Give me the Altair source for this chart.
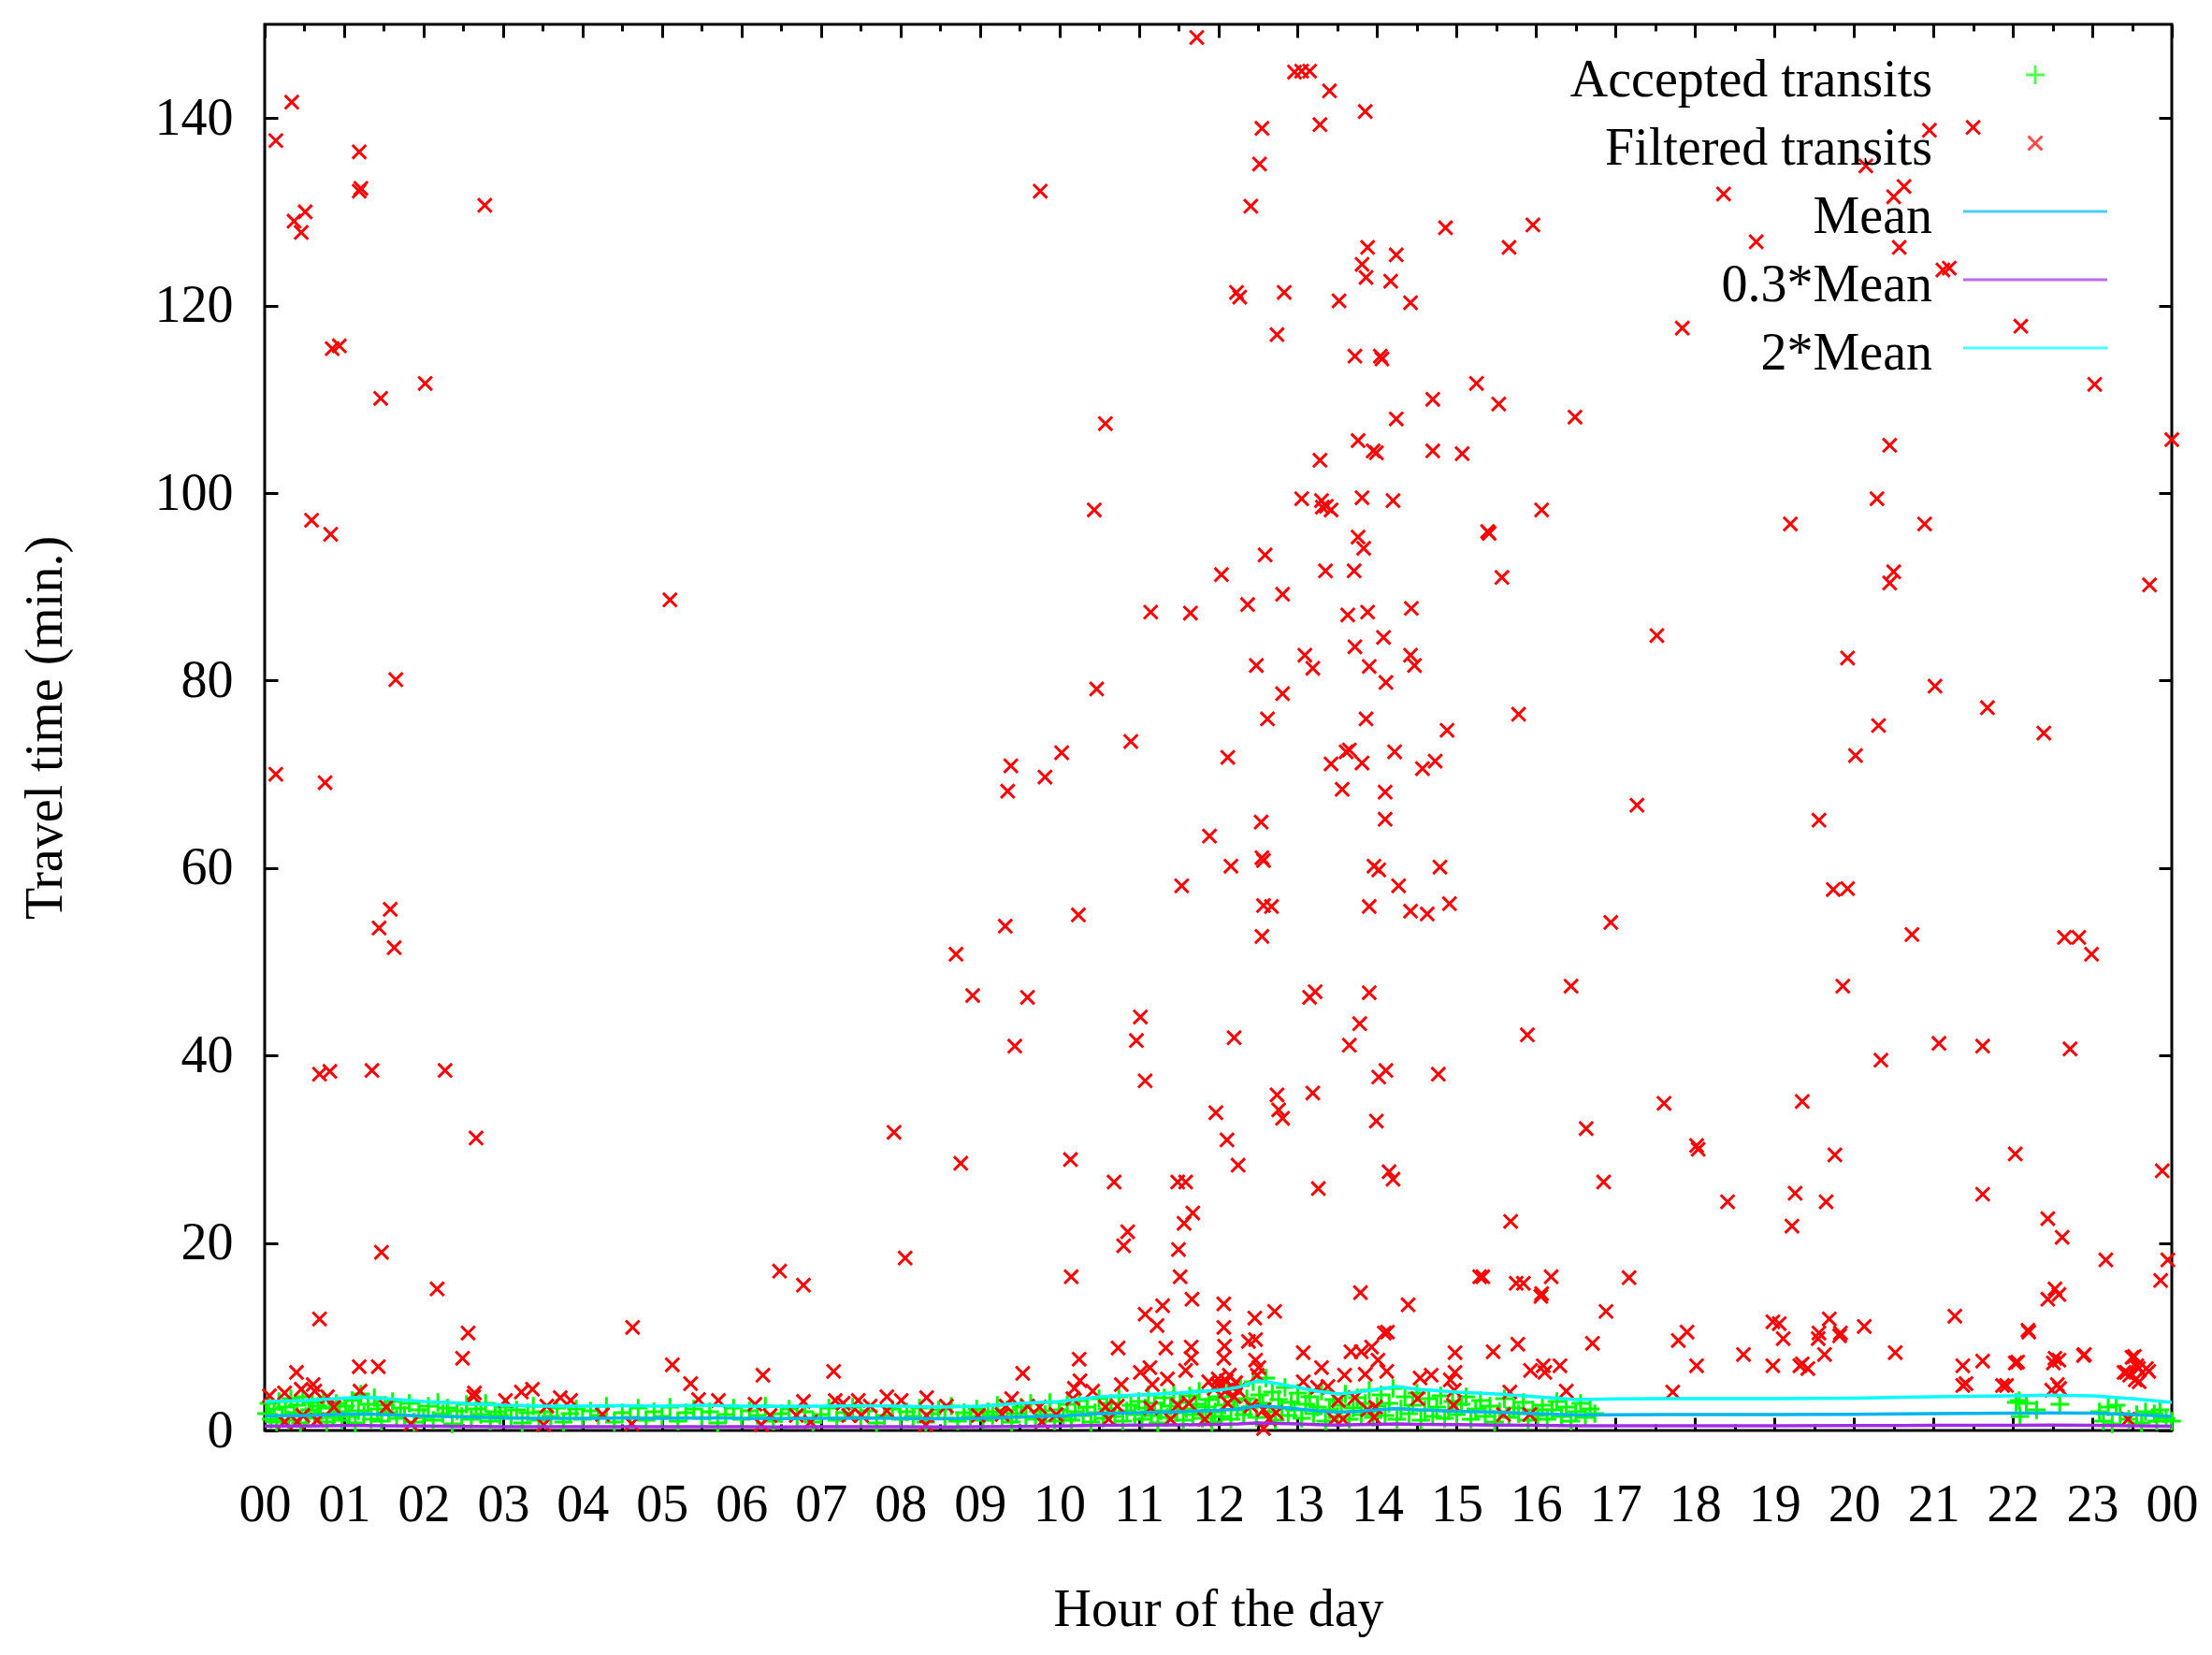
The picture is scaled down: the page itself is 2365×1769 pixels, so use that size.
import json
import altair as alt
import pandas as pd

# ---------------- data ----------------
SERIES = ["Accepted transits", "Filtered transits", "Mean", "0.3*Mean", "2*Mean"]
COLORS = ["#00ff00", "#ff0000", "#00b4f0", "#9f2de6", "#00ffff"]

# accepted transits: (hour of day, travel time in minutes)
ACCEPTED_00_05 = [
    (0.02, 1.8), (0.05, 2.9), (0.08, 1.2), (0.12, 2.3), (0.15, 0.9), (0.18, 3.1), (0.22, 1.6),
    (0.26, 2.5), (0.3, 1.1), (0.33, 3.4), (0.37, 1.9), (0.41, 2.7), (0.45, 0.8), (0.48, 3.6),
    (0.52, 1.5), (0.56, 2.2), (0.6, 3.0), (0.63, 1.3), (0.67, 2.6), (0.7, 1.8), (0.74, 3.3),
    (0.78, 0.9), (0.82, 2.4), (0.86, 1.4), (0.9, 2.9), (0.94, 2.0), (0.97, 1.1),
    (1.02, 2.6), (1.06, 1.5), (1.1, 3.2), (1.14, 0.8), (1.18, 2.1), (1.21, 3.9), (1.25, 1.7),
    (1.3, 2.8), (1.34, 1.2), (1.38, 3.5), (1.42, 2.3), (1.47, 1.0), (1.52, 2.7), (1.56, 1.9),
    (1.61, 3.1), (1.66, 1.3), (1.71, 2.4), (1.76, 1.6), (1.82, 2.9), (1.88, 0.9), (1.94, 2.2),
    (2.0, 1.4), (2.06, 2.6), (2.12, 1.1), (2.18, 3.0), (2.24, 1.8), (2.3, 2.4), (2.36, 0.7),
    (2.42, 2.1), (2.48, 1.5), (2.54, 2.8), (2.6, 1.2), (2.66, 2.3), (2.72, 1.7), (2.78, 2.9),
    (2.84, 1.0), (2.9, 2.0), (2.96, 1.6),
    (3.03, 2.5), (3.1, 1.3), (3.17, 2.2), (3.24, 0.8), (3.31, 1.9), (3.38, 2.6), (3.45, 1.1),
    (3.52, 2.0), (3.6, 1.5), (3.68, 2.4), (3.76, 0.9), (3.84, 1.8), (3.92, 2.3),
    (4.0, 1.2), (4.1, 2.1), (4.2, 1.6), (4.3, 2.6), (4.4, 0.9), (4.5, 1.9), (4.6, 1.4),
    (4.7, 2.4), (4.8, 1.1), (4.9, 2.0),
]
ACCEPTED_05_10 = [
    (5.0, 1.5), (5.1, 2.5), (5.2, 1.0), (5.3, 1.9), (5.4, 2.3), (5.5, 1.3), (5.6, 2.0),
    (5.7, 0.8), (5.8, 1.7), (5.9, 2.4),
    (6.0, 1.2), (6.1, 2.1), (6.2, 1.6), (6.3, 2.6), (6.4, 1.0), (6.5, 1.8), (6.6, 2.3),
    (6.7, 1.3), (6.8, 2.0), (6.9, 0.9),
    (7.0, 1.7), (7.1, 2.4), (7.2, 1.1), (7.3, 1.9), (7.4, 2.5), (7.5, 1.4), (7.6, 2.1),
    (7.7, 0.8), (7.8, 1.6), (7.9, 2.3),
    (8.0, 1.2), (8.08, 2.0), (8.16, 1.5), (8.24, 2.4), (8.32, 0.9), (8.4, 1.8), (8.48, 2.2),
    (8.56, 1.3), (8.64, 2.6), (8.72, 1.0), (8.8, 1.9), (8.88, 1.5), (8.96, 2.3),
    (9.04, 1.1), (9.1, 2.0), (9.16, 1.6), (9.22, 2.7), (9.28, 1.3), (9.34, 2.2), (9.4, 0.9),
    (9.46, 1.8), (9.52, 2.5), (9.58, 1.4), (9.64, 2.9), (9.7, 1.2), (9.76, 2.1), (9.82, 1.7),
    (9.88, 3.0), (9.94, 1.0),
]
ACCEPTED_10_17 = [
    (10.0, 2.2), (10.05, 1.4), (10.1, 2.8), (10.15, 1.1), (10.2, 2.0), (10.25, 3.2), (10.3, 1.6),
    (10.35, 2.5), (10.4, 0.9), (10.45, 1.9), (10.5, 3.4), (10.55, 1.3), (10.6, 2.3), (10.65, 2.9),
    (10.7, 1.5), (10.75, 3.6), (10.8, 1.0), (10.85, 2.1), (10.9, 2.7), (10.95, 1.7),
    (11.0, 3.1), (11.04, 1.2), (11.08, 2.4), (11.12, 3.8), (11.16, 1.6), (11.2, 2.9), (11.24, 0.8),
    (11.28, 2.1), (11.32, 3.5), (11.36, 1.4), (11.4, 2.6), (11.44, 4.0), (11.48, 1.9), (11.52, 3.0),
    (11.56, 1.1), (11.6, 2.3), (11.64, 3.7), (11.68, 1.7), (11.72, 2.8), (11.76, 4.2), (11.8, 1.3),
    (11.84, 2.5), (11.88, 3.3), (11.92, 0.9), (11.96, 2.0),
    (12.0, 3.6), (12.04, 1.5), (12.08, 2.7), (12.12, 4.4), (12.16, 1.2), (12.2, 3.1), (12.24, 2.2),
    (12.28, 4.8), (12.32, 1.7), (12.36, 3.4), (12.4, 2.5), (12.44, 5.2), (12.48, 1.4), (12.52, 3.8),
    (12.56, 2.9), (12.6, 5.6), (12.64, 2.0), (12.68, 4.1), (12.72, 1.1), (12.76, 3.3), (12.8, 2.4),
    (12.84, 4.6), (12.88, 1.6), (12.92, 3.0), (12.96, 2.2),
    (13.0, 4.0), (13.05, 1.3), (13.1, 2.8), (13.15, 3.6), (13.2, 1.8), (13.25, 2.5), (13.3, 4.2),
    (13.35, 1.0), (13.4, 2.2), (13.45, 3.3), (13.5, 1.5), (13.55, 2.7), (13.6, 3.9), (13.65, 1.2),
    (13.7, 2.4), (13.75, 3.5), (13.8, 1.7), (13.85, 2.9), (13.9, 4.3), (13.95, 1.4),
    (14.0, 2.6), (14.05, 3.8), (14.1, 1.6), (14.15, 2.9), (14.2, 4.5), (14.25, 1.2), (14.3, 2.3),
    (14.35, 3.6), (14.4, 1.8), (14.45, 2.7), (14.5, 4.0), (14.55, 1.1), (14.6, 2.2), (14.65, 3.4),
    (14.7, 1.5), (14.75, 2.5), (14.8, 3.7), (14.85, 1.3), (14.9, 2.1), (14.95, 3.1),
    (15.0, 1.7), (15.06, 2.8), (15.12, 3.6), (15.18, 1.2), (15.24, 2.3), (15.3, 3.2), (15.36, 1.5),
    (15.42, 2.6), (15.48, 0.9), (15.54, 2.0), (15.6, 3.4), (15.66, 1.4), (15.72, 2.4), (15.78, 1.8),
    (15.84, 3.0), (15.9, 1.1), (15.96, 2.2),
    (16.02, 1.6), (16.08, 2.7), (16.14, 1.2), (16.2, 2.2), (16.26, 3.1), (16.32, 1.5), (16.38, 2.5),
    (16.44, 1.0), (16.5, 2.0), (16.56, 2.9), (16.62, 1.4), (16.68, 2.3), (16.74, 1.8),
]
ACCEPTED_22_24 = [
    (22.04, 3.0), (22.08, 3.2), (22.17, 2.9), (22.3, 2.2), (22.59, 2.8), (22.09, 1.5),
    (23.09, 2.0), (23.2, 2.5), (23.3, 2.7), (23.35, 1.8), (23.46, 1.2), (23.56, 1.7),
    (23.67, 2.0), (23.78, 1.8), (23.85, 2.2), (23.93, 1.3), (24.0, 1.0), (23.14, 1.0),
    (23.25, 0.7), (23.62, 0.8), (23.81, 1.0),
]

# filtered transits: (hour of day, travel time in minutes)
FILTERED_00_10 = [
    (0.14, 137.6), (0.34, 141.7), (0.37, 129.0), (0.46, 127.8), (0.51, 130.0), (0.59, 97.1),
    (0.85, 115.4), (0.94, 115.7), (0.83, 95.6), (1.19, 136.4), (1.19, 132.2), (1.21, 132.5),
    (1.46, 110.1), (0.14, 70.0), (0.76, 69.1), (0.69, 38.0), (0.82, 38.3), (1.65, 80.1),
    (1.58, 55.6), (1.44, 53.6), (1.63, 51.5), (1.35, 38.4), (1.47, 19.0), (0.69, 11.9),
    (2.02, 111.7), (2.27, 38.4), (2.77, 130.7), (2.66, 31.2), (2.17, 15.1), (2.56, 10.4),
    (2.49, 7.7), (5.1, 88.6), (4.63, 11.0), (6.48, 17.0), (6.78, 15.5), (7.92, 31.8),
    (8.06, 18.4), (8.7, 50.8), (8.76, 28.5), (8.91, 46.4), (9.32, 53.8), (9.35, 68.2),
    (9.39, 70.9), (9.44, 41.0), (9.6, 46.2), (9.76, 132.2), (9.82, 69.7),
    (0.4, 6.2), (1.19, 6.8), (1.43, 6.8), (5.13, 7.0), (5.36, 5.0), (5.46, 3.3), (5.71, 3.2),
    (6.27, 5.9), (7.16, 6.3), (6.78, 3.1), (0.25, 4.0), (0.06, 3.7), (0.46, 4.4), (0.61, 4.9),
    (0.63, 4.2), (0.79, 3.6), (0.87, 2.5), (1.2, 4.2), (1.53, 2.5), (2.63, 3.6), (2.64, 4.0),
    (3.03, 3.2), (3.23, 4.1), (3.37, 4.4), (3.55, 2.6), (3.72, 3.5), (3.85, 3.2), (4.25, 1.7),
    (6.17, 2.8), (6.36, 1.6), (7.18, 3.2), (7.28, 2.9), (7.47, 3.2), (7.62, 2.6), (7.83, 3.6),
    (8.01, 3.2), (7.35, 1.6), (7.51, 1.6), (7.83, 2.1), (6.69, 1.6), (6.87, 0.9), (0.25, 0.9),
    (0.41, 0.9), (0.66, 1.1), (0.48, 1.6), (1.84, 0.7), (3.51, 0.6), (4.62, 0.7), (6.25, 0.6),
    (8.33, 3.5), (8.58, 2.6), (8.33, 1.6), (8.32, 0.6), (8.98, 1.6), (9.54, 6.1), (9.4, 3.4),
    (9.33, 2.6), (9.28, 1.7), (9.6, 2.6), (9.75, 2.5), (9.78, 0.9), (9.96, 1.7),
]
FILTERED_10_16 = [
    (10.03, 72.3), (10.14, 28.9), (10.15, 16.4), (10.24, 55.0), (10.44, 98.2), (10.47, 79.1),
    (10.58, 107.4), (10.69, 26.5), (10.81, 19.7), (10.86, 21.2), (10.9, 73.5), (11.02, 44.1),
    (10.97, 41.6), (11.08, 37.3), (11.15, 87.3), (11.54, 58.1), (11.65, 87.2), (11.73, 148.6),
    (11.49, 26.5), (11.59, 26.5), (11.5, 19.3), (11.52, 16.4), (11.57, 22.1), (11.68, 23.2),
    (12.04, 91.3), (12.12, 71.8), (11.89, 63.4), (12.16, 60.2), (12.2, 41.9), (12.23, 121.4),
    (12.27, 120.9), (11.97, 33.9), (12.11, 31.0), (12.25, 28.3), (12.41, 130.6), (12.52, 135.1),
    (12.55, 138.9), (12.37, 88.1), (12.48, 81.6), (12.54, 64.9), (12.55, 61.1), (12.57, 60.8),
    (12.55, 52.7), (12.59, 93.4), (12.62, 75.9), (12.57, 56.0), (12.67, 55.9), (12.74, 116.9),
    (12.81, 89.2), (12.83, 121.4), (12.81, 78.6), (12.74, 35.8), (12.76, 34.2), (12.81, 33.3),
    (12.96, 144.9), (13.05, 145.0), (13.15, 145.0), (13.05, 99.4), (13.09, 82.7), (13.19, 81.3),
    (13.15, 46.2), (13.22, 46.8), (13.19, 36.0), (13.28, 139.3), (13.4, 142.9), (13.28, 103.5),
    (13.3, 99.2), (13.31, 98.5), (13.42, 98.2), (13.36, 98.6), (13.35, 91.7), (13.26, 25.8),
    (13.42, 71.1), (13.52, 120.5), (13.56, 68.4), (13.61, 72.4), (13.65, 72.6), (13.65, 41.1),
    (13.63, 87.0), (13.72, 114.6), (13.71, 91.7), (13.72, 83.6), (13.76, 95.3), (13.76, 105.6),
    (13.78, 43.4), (13.85, 140.7), (13.81, 124.4), (13.88, 126.2), (13.86, 123.0), (13.81, 99.5),
    (13.83, 94.1), (13.88, 87.3), (13.86, 75.9), (13.81, 71.2), (13.9, 81.5), (13.9, 55.9),
    (13.9, 46.7), (13.95, 104.5), (13.99, 104.3), (13.96, 60.2), (14.02, 59.8), (14.04, 114.6),
    (14.06, 114.3), (14.08, 84.6), (14.11, 79.8), (14.1, 68.1), (14.1, 65.2), (13.99, 33.0),
    (14.02, 37.7), (14.11, 38.4), (14.17, 122.6), (14.2, 99.2), (14.24, 107.9), (14.24, 125.4),
    (14.22, 72.4), (14.27, 58.1), (14.15, 27.6), (14.2, 26.8), (14.42, 120.3), (14.43, 87.7),
    (14.42, 82.7), (14.47, 81.6), (14.42, 55.4), (14.57, 70.6), (14.63, 55.1), (14.7, 110.0),
    (14.7, 104.5), (14.73, 71.4), (14.77, 38.0), (14.79, 60.1), (14.86, 128.3), (14.88, 74.7),
    (14.91, 56.2), (15.07, 104.2), (15.25, 111.7), (15.29, 16.4), (15.33, 16.4), (15.39, 95.9),
    (15.41, 95.7), (15.53, 109.5), (15.57, 91.0), (15.66, 126.2), (15.68, 22.3), (15.75, 15.7),
    (15.84, 15.7), (15.78, 76.4), (15.89, 42.2), (15.96, 128.6),
    (10.25, 7.6), (10.26, 5.3), (10.19, 4.5), (10.17, 3.4), (10.42, 4.2), (10.58, 2.5),
    (10.62, 1.2), (10.73, 2.6), (10.74, 8.8), (10.78, 4.9), (11.08, 12.4), (11.23, 11.2),
    (11.3, 13.3), (11.67, 14.0), (12.07, 13.5), (12.07, 11.0), (12.08, 9.0), (12.07, 7.7),
    (11.34, 8.8), (11.66, 8.9), (11.66, 7.7), (11.59, 6.4), (11.02, 6.2), (11.14, 6.7),
    (11.17, 4.9), (11.36, 5.5), (11.15, 2.4), (11.4, 1.2), (11.49, 2.7), (11.63, 2.9),
    (11.88, 5.2), (11.99, 4.9), (12.09, 4.2), (12.14, 5.9), (12.2, 3.6), (12.12, 2.9),
    (11.83, 1.2), (11.95, 4.5), (12.0, 5.5), (12.05, 4.8), (12.1, 5.3), (12.18, 4.6),
    (12.22, 5.1), (12.25, 4.3), (12.46, 12.0), (12.71, 12.7), (12.38, 9.5), (12.47, 9.7),
    (12.47, 7.5), (12.51, 6.7), (12.49, 5.9), (12.41, 2.6), (12.57, 2.2), (12.57, 0.2),
    (12.73, 1.9), (12.64, 1.2), (13.07, 8.3), (13.3, 6.7), (13.07, 5.2), (13.25, 4.6),
    (13.38, 4.7), (13.51, 3.2), (13.46, 1.2), (13.59, 5.9), (13.67, 8.4), (13.8, 8.4),
    (13.93, 8.9), (14.01, 7.5), (14.09, 10.4), (14.13, 10.5), (14.12, 6.3), (13.85, 6.0),
    (13.72, 3.5), (13.88, 2.2), (13.98, 2.5), (13.96, 1.4), (13.57, 1.2), (14.39, 13.4),
    (13.79, 14.7), (15.77, 9.2), (15.46, 8.4), (14.98, 8.3), (14.98, 6.2), (14.54, 5.6),
    (14.68, 5.9), (14.92, 5.4), (14.97, 4.3), (14.51, 3.4), (14.96, 2.7), (15.93, 6.4),
    (15.67, 4.1), (15.59, 1.7), (15.92, 1.7),
]
FILTERED_16_24 = [
    (16.07, 98.2), (16.07, 14.6), (16.19, 16.4), (16.49, 108.1), (16.44, 47.4), (16.63, 32.2),
    (16.85, 26.5), (16.94, 54.2), (16.88, 12.7), (17.17, 16.3), (17.27, 66.7), (17.52, 84.8),
    (17.61, 34.9), (17.84, 117.6), (17.9, 10.5), (17.79, 9.6), (18.02, 30.4), (18.04, 30.0),
    (18.02, 6.9), (18.36, 131.9), (18.41, 24.4), (18.61, 8.1), (18.77, 126.8), (18.98, 11.6),
    (18.98, 6.9), (19.2, 96.7), (19.22, 21.8), (19.26, 25.3), (19.35, 7.1), (19.42, 6.6),
    (19.35, 35.1), (19.56, 65.1), (19.56, 10.4), (19.65, 24.4), (19.69, 11.9), (19.74, 57.7),
    (19.76, 29.4), (19.83, 10.4), (19.86, 47.4), (19.92, 57.8), (19.92, 82.4), (20.02, 72.0),
    (20.13, 11.1), (20.15, 134.9), (20.29, 99.4), (20.31, 75.2), (20.34, 39.5), (20.45, 90.4),
    (20.5, 91.6), (20.45, 105.1), (20.5, 131.6), (20.52, 8.3), (20.57, 126.2), (20.63, 132.7),
    (20.73, 52.9), (20.89, 96.7), (20.95, 138.7), (21.02, 79.4), (21.07, 41.3), (21.12, 123.8),
    (21.2, 124.0), (21.27, 12.2), (21.37, 6.9), (21.37, 4.8), (21.5, 139.0), (21.62, 25.2),
    (21.62, 7.4), (21.62, 41.0), (21.68, 77.1), (21.87, 4.8), (22.03, 29.5), (22.03, 7.2),
    (22.1, 117.8), (22.19, 10.7), (22.39, 74.4), (22.44, 22.6), (22.44, 14.0), (22.53, 15.1),
    (22.53, 7.7), (22.58, 7.5), (22.62, 20.6), (22.65, 52.6), (22.72, 40.7), (22.83, 52.6),
    (22.9, 8.1), (22.99, 50.8), (23.03, 111.6), (23.17, 18.2), (23.4, 6.2), (23.47, 5.9),
    (23.5, 7.8), (23.54, 5.4), (23.58, 6.6), (23.72, 90.2), (23.68, 6.6), (23.86, 16.0),
    (23.88, 27.7), (23.95, 18.2), (24.0, 105.7),
    (16.06, 14.3), (16.11, 6.2), (16.3, 6.9), (16.09, 6.9), (16.38, 4.2), (16.71, 9.3),
    (17.72, 4.1), (19.06, 11.4), (19.11, 9.8), (19.32, 6.9), (19.55, 9.8), (19.82, 10.1),
    (19.63, 8.1), (21.41, 5.0), (21.92, 4.8), (22.06, 7.3), (22.2, 10.5), (22.51, 7.2),
    (22.56, 4.9), (22.49, 4.3), (22.59, 4.5), (22.89, 8.0), (22.58, 14.5), (23.43, 6.2),
    (23.53, 7.9), (23.56, 6.9), (23.59, 5.2), (23.71, 6.3), (23.45, 1.2),
]

# running mean of accepted travel time
MEAN_HOUR = [0.0, 0.5, 1.0, 1.25, 1.5, 2.0, 2.5, 3.0, 3.5, 4.0, 4.5, 5.0, 5.5, 6.0, 6.5, 7.0,
             7.5, 8.0, 8.5, 9.0, 9.5, 10.0, 10.5, 11.0, 11.5, 12.0, 12.25, 12.5, 12.75, 13.0,
             13.25, 13.5, 13.75, 14.0, 14.25, 14.5, 15.0, 15.5, 16.0, 16.5, 17.0, 18.0, 19.0,
             20.0, 21.0, 22.0, 22.5, 23.0, 23.5, 24.0]
MEAN_VAL = [1.55, 1.6, 1.72, 1.78, 1.7, 1.55, 1.45, 1.35, 1.3, 1.3, 1.32, 1.3, 1.35, 1.3, 1.28,
            1.3, 1.32, 1.3, 1.25, 1.3, 1.45, 1.55, 1.8, 1.9, 2.0, 2.15, 2.3, 2.65, 2.5, 2.3,
            2.1, 1.95, 2.05, 2.2, 2.35, 2.2, 2.05, 1.95, 1.8, 1.65, 1.68, 1.7, 1.7, 1.72, 1.8,
            1.85, 1.88, 1.85, 1.7, 1.5]

X_TICKS = list(range(0, 25))
X_MINOR = [h + 0.5 for h in range(24)]
Y_TICKS = [0, 20, 40, 60, 80, 100, 120, 140]

# ---------------- tables ----------------
acc = pd.DataFrame(ACCEPTED_00_05 + ACCEPTED_05_10 + ACCEPTED_10_17 + ACCEPTED_22_24,
                   columns=["hour", "minutes"])
acc["series"] = SERIES[0]
acc["idx"] = 0
filt = pd.DataFrame(FILTERED_00_10 + FILTERED_10_16 + FILTERED_16_24, columns=["hour", "minutes"])
filt["series"] = SERIES[1]
lines = pd.concat([
    pd.DataFrame({"hour": MEAN_HOUR, "minutes": MEAN_VAL, "series": "Mean"}),
    pd.DataFrame({"hour": MEAN_HOUR, "minutes": [0.3 * v for v in MEAN_VAL], "series": "0.3*Mean"}),
    pd.DataFrame({"hour": MEAN_HOUR, "minutes": [2 * v for v in MEAN_VAL], "series": "2*Mean"}),
], ignore_index=True)

# ---------------- styling ----------------
W, H = 2039, 1503
FONT = "Liberation Serif"
FS = 56
PLUS = "M-1,0L1,0M0,-1L0,1"
CROSS = "M-0.75,-0.75L0.75,0.75M-0.75,0.75L0.75,-0.75"
LINE = "M-7.7,0L7.7,0"
SHAPES = [PLUS, CROSS, LINE, LINE, LINE]

xscale = alt.Scale(domain=[0, 24], nice=False, zero=False)
yscale = alt.Scale(domain=[0, 150], nice=False)
cscale = alt.Scale(domain=SERIES, range=COLORS)
sscale = alt.Scale(domain=SERIES, range=SHAPES)
oscale = alt.Scale(domain=list(range(len(SERIES))), range=[1] * len(SERIES))

# legend of the symbols (no label text) ...
symbol_legend = alt.Legend(
    title=None, orient="none", legendX=1865, legendY=26, padding=0,
    labelFont=FONT, labelFontSize=FS, labelColor="transparent", labelAlign="right",
    labelOffset={"expr": "-138"}, labelLimit=0, symbolSize=400, symbolStrokeWidth=3,
    rowPadding=17, symbolOffset=0, labelExpr="''",
)
# ... and legend of the texts, set a little lower, as gnuplot does
label_legend = alt.Legend(
    title=None, orient="none", legendX=1865, legendY=32, padding=0,
    labelFont=FONT, labelFontSize=FS, labelColor="black", labelAlign="right",
    labelOffset={"expr": "-138"}, labelLimit=0, symbolSize=0, symbolStrokeWidth=0,
    symbolOpacity=0, rowPadding=17, symbolOffset=0,
    labelExpr=json.dumps(SERIES) + "[datum.value]",
)

tick_common = dict(domain=False, grid=False, tickColor="black", tickWidth=3)

x_bottom = alt.Axis(
    orient="bottom", values=X_TICKS, offset=-14, tickSize=14,
    labelExpr="datum.value == 24 ? '00' : (datum.value < 10 ? '0' + datum.value : '' + datum.value)",
    labelFont=FONT, labelFontSize=FS, labelColor="black", labelPadding=52,
    labelFlush=False, labelOverlap=False,
    title="Hour of the day", titleFont=FONT, titleFontSize=FS, titleFontWeight="normal",
    titleColor="black", titleX=W / 2, titleY=222, titleBaseline="alphabetic", titleAlign="center",
    **tick_common,
)
y_left = alt.Axis(
    orient="left", values=Y_TICKS, offset=-14, tickSize=14,
    labelFont=FONT, labelFontSize=FS, labelColor="black", labelPadding=34,
    labelFlush=False, labelOverlap=False,
    title="Travel time (min.)", titleFont=FONT, titleFontSize=FS, titleFontWeight="normal",
    titleColor="black", titleX=-249, titleY=H / 2, titleAngle=270, titleBaseline="middle",
    titleAlign="center",
    **tick_common,
)
x_top = alt.Axis(orient="top", values=X_TICKS, offset=-14, tickSize=14, labels=False, title=None,
                 **tick_common)
y_right = alt.Axis(orient="right", values=Y_TICKS, offset=-14, tickSize=14, labels=False,
                   title=None, **tick_common)
x_bottom_minor = alt.Axis(orient="bottom", values=X_MINOR, offset=-7, tickSize=7, labels=False,
                          title=None, **tick_common)
x_top_minor = alt.Axis(orient="top", values=X_MINOR, offset=-7, tickSize=7, labels=False,
                       title=None, **tick_common)

accepted_layer = alt.Chart(acc).mark_point(filled=False, strokeWidth=3, size=380).encode(
    x=alt.X("hour:Q", scale=xscale, axis=x_bottom),
    y=alt.Y("minutes:Q", scale=yscale, axis=y_left),
    color=alt.Color("series:N", scale=cscale, legend=symbol_legend),
    shape=alt.Shape("series:N", scale=sscale, legend=symbol_legend),
    opacity=alt.Opacity("idx:O", scale=oscale, legend=label_legend),
)
filtered_layer = alt.Chart(filt).mark_point(filled=False, strokeWidth=3, size=380, opacity=1).encode(
    x=alt.X("hour:Q", scale=xscale, axis=x_top),
    y=alt.Y("minutes:Q", scale=yscale, axis=y_right),
    color=alt.Color("series:N", scale=cscale, legend=None),
    shape=alt.Shape("series:N", scale=sscale, legend=None),
)
mean_layer = alt.Chart(lines).transform_filter(alt.datum.series == "Mean").mark_line(
    strokeWidth=3.5, interpolate="linear").encode(
    x=alt.X("hour:Q", scale=xscale, axis=x_bottom_minor),
    y=alt.Y("minutes:Q", scale=yscale, axis=None),
    color=alt.Color("series:N", scale=cscale, legend=None),
)
other_layer = alt.Chart(lines).transform_filter(alt.datum.series != "Mean").mark_line(
    strokeWidth=3.5, interpolate="linear").encode(
    x=alt.X("hour:Q", scale=xscale, axis=x_top_minor),
    y=alt.Y("minutes:Q", scale=yscale, axis=None),
    color=alt.Color("series:N", scale=cscale, legend=None),
)

chart = alt.layer(accepted_layer, filtered_layer, mean_layer, other_layer).resolve_axis(
    x="independent", y="independent"
).properties(
    width=W, height=H,
    autosize=alt.AutoSizeParams(type="none"),
    padding={"left": 275, "top": 18, "right": 35, "bottom": 232},
    background="white",
).configure_view(stroke="black", strokeWidth=3)

chart.save("out.html", embed_options={"renderer": "svg", "actions": False})
